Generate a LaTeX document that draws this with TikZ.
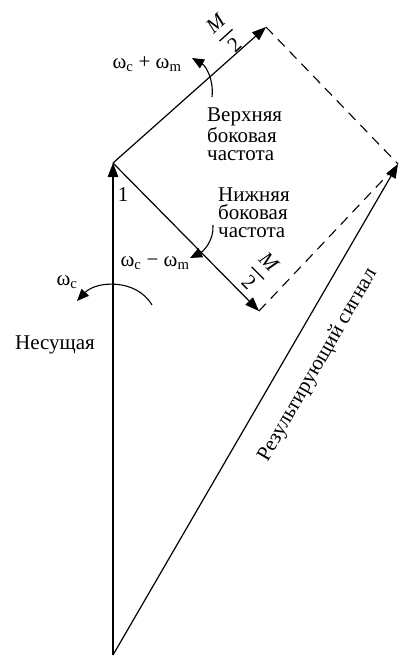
\documentclass[tikz,border=0pt]{standalone}
\usepackage{fontspec}
\setmainfont{Liberation Serif}
\usetikzlibrary{arrows.meta}
\newcommand{\halfM}{$\displaystyle{\textit{M}\above1.3pt\textrm{2}}$}
\begin{document}
\begin{tikzpicture}[x=1pt,y=-1pt,
  vec/.style={line width=1.2pt,-{Triangle[length=14pt,width=10.5pt]}},
  rot/.style={line width=1.1pt,-{Triangle[length=12pt,width=10pt]}},
  dsh/.style={line width=1.1pt,dash pattern=on 10pt off 7pt},
  lbl/.style={font=\fontsize{21}{18}\selectfont,inner sep=0pt,align=left}]
\useasboundingbox (0,0) rectangle (402,657);
\coordinate (O) at (113,655);
\coordinate (C) at (113,163);
\coordinate (U) at (266,27);
\coordinate (L) at (259,311);
\coordinate (R) at (398,164);
\draw[vec] (O) -- (C);
\draw[vec] (C) -- (U);
\draw[vec] (C) -- (L);
\draw[vec] (O) -- (R);
\draw[dsh] (U) -- (R);
\draw[dsh] (L) -- (R);
% rotation arrows
\coordinate (a1) at (212,97);
\coordinate (a2) at (192,58);
\draw[rot] (a1) .. controls (214,80) and (206,66) .. (a2);
\coordinate (b1) at (213,225);
\coordinate (b2) at (190,258);
\draw[rot] (b1) .. controls (214,240) and (204,251) .. (b2);
\coordinate (c1) at (152,305);
\coordinate (c2) at (77,301);
\draw[rot] (c1) .. controls (136,278) and (96,281) .. (c2);
% labels
\node[lbl,rotate=42] (m1) at (225,34) {\halfM};
\node[lbl,rotate=-45] (m2) at (259,272) {\halfM};
\node[lbl] (wp) at (147,64) {ω\textsubscript{c} + ω\textsubscript{m}};
\node[lbl] (wm) at (155,263) {ω\textsubscript{c} − ω\textsubscript{m}};
\node[lbl] (wc) at (67,282) {ω\textsubscript{c}};
\node[lbl] (one) at (123,195) {1};
\node[lbl,anchor=west] (up) at (207,134) {Верхняя\\боковая\\частота};
\node[lbl,anchor=west] (lo) at (218,213) {Нижняя\\боковая\\частота};
\node[lbl] (car) at (55,345) {Несущая};
\node[lbl,rotate=60] (res) at (318,365) {Результирующий сигнал};
\end{tikzpicture}
\end{document}
